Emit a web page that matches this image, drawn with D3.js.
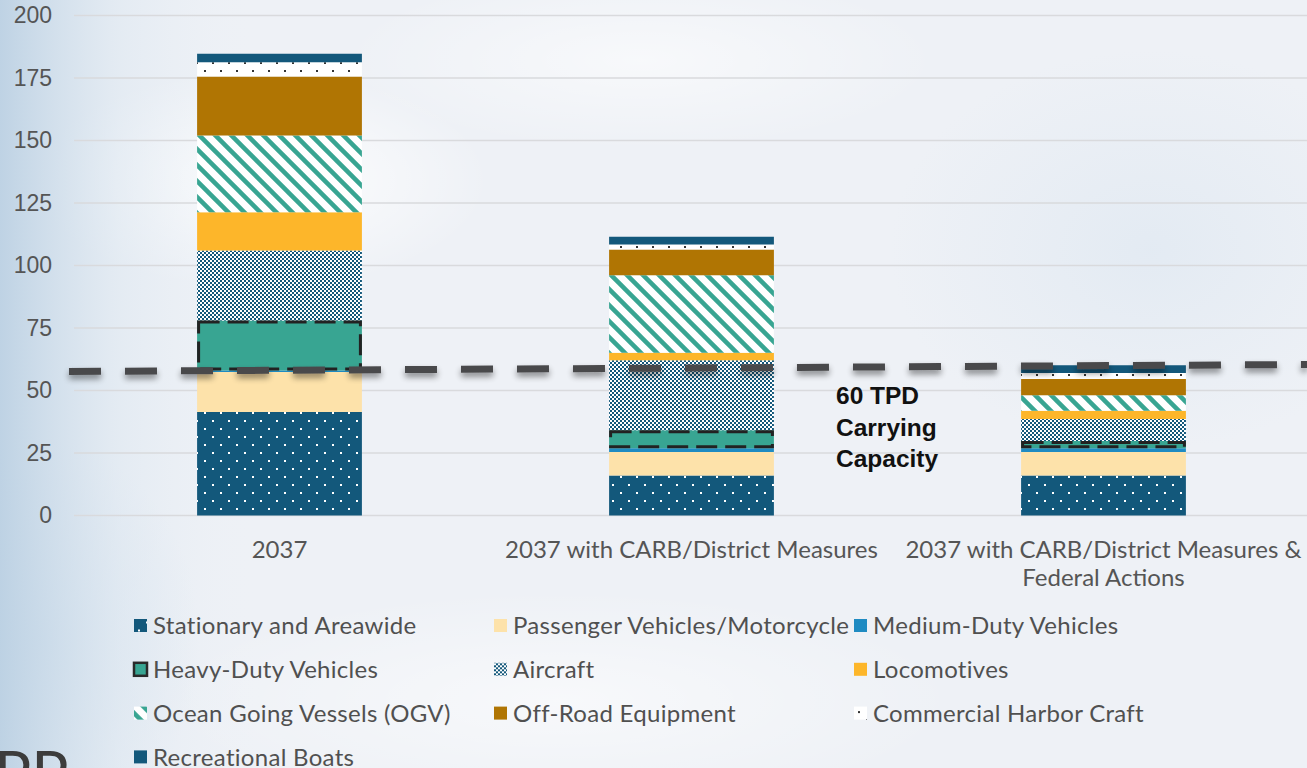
<!DOCTYPE html>
<html>
<head>
<meta charset="utf-8">
<script src="https://cdn.jsdelivr.net/npm/d3@7"></script>
<style>
  body { margin: 0; padding: 0; overflow: hidden; }
  svg { display: block; }
</style>
</head>
<body>
<script>
// emissions inventory, tons per day

var categories = ["2037", "2037 with CARB/District Measures", "2037 with CARB/District Measures & Federal Actions"];

var stationary = [41.4, 16.0, 16.0],
    passenger = [16.0, 9.4, 9.4],
    mediumDuty = [0.6, 1.5, 1.5],
    heavyDuty = [20.0, 7.2, 2.9],
    aircraft = [28.0, 28.0, 8.8],
    locomotives = [15.3, 3.0, 3.3],
    ogv = [30.7, 31.0, 6.2],
    offRoad = [23.6, 10.3, 6.5],
    harborCraft = [5.7, 2.0, 2.4],
    recBoats = [3.4, 3.1, 3.1];

var seriesNames = ["Stationary and Areawide", "Passenger Vehicles/Motorcycle", "Medium-Duty Vehicles",
    "Heavy-Duty Vehicles", "Aircraft", "Locomotives",
    "Ocean Going Vessels (OGV)", "Off-Road Equipment", "Commercial Harbor Craft",
    "Recreational Boats"];
var seriesValues = [stationary, passenger, mediumDuty, heavyDuty, aircraft, locomotives, ogv, offRoad, harborCraft, recBoats];

var yTicks = [0, 25, 50, 75, 100, 125, 150, 175, 200];

// carrying capacity line as drawn (slightly tilted in the original)
var capacityStart = 57.6,
    capacityEnd = 60.4;
var capacityLabel = ["60 TPD", "Carrying", "Capacity"];

function initChart()
{
    var width = 1307,
        height = 768;

    var svg = d3.select("body").append("svg")
        .attr("width", width)
        .attr("height", height);

    var defs = svg.append("defs");

    // background
    var bgGrad = defs.append("linearGradient").attr("id", "bgLeft")
        .attr("x1", 0).attr("x2", 1).attr("y1", 0).attr("y2", 0);
    bgGrad.append("stop").attr("offset", 0).attr("stop-color", "#b9cfe2").attr("stop-opacity", 0.9);
    bgGrad.append("stop").attr("offset", 0.09).attr("stop-color", "#dbe6f0").attr("stop-opacity", 0.55);
    bgGrad.append("stop").attr("offset", 0.2).attr("stop-color", "#eef2f7").attr("stop-opacity", 0);

    var glow = defs.append("radialGradient").attr("id", "glow");
    glow.append("stop").attr("offset", 0).attr("stop-color", "#ffffff").attr("stop-opacity", 0.95);
    glow.append("stop").attr("offset", 1).attr("stop-color", "#ffffff").attr("stop-opacity", 0);

    var blueGlow = defs.append("radialGradient").attr("id", "blueGlow");
    blueGlow.append("stop").attr("offset", 0).attr("stop-color", "#d3e1ee").attr("stop-opacity", 0.8);
    blueGlow.append("stop").attr("offset", 1).attr("stop-color", "#d3e1ee").attr("stop-opacity", 0);

    svg.append("rect").attr("width", width).attr("height", height).attr("fill", "#eef1f6");
    svg.append("ellipse").attr("cx", 260).attr("cy", 180).attr("rx", 230).attr("ry", 110).attr("fill", "url(#glow)");
    svg.append("ellipse").attr("cx", 640).attr("cy", 60).attr("rx", 300).attr("ry", 90).attr("fill", "url(#glow)").attr("opacity", 0.6);
    svg.append("ellipse").attr("cx", 560).attr("cy", 700).attr("rx", 400).attr("ry", 110).attr("fill", "url(#glow)").attr("opacity", 0.6);
    svg.append("ellipse").attr("cx", 1150).attr("cy", 250).attr("rx", 260).attr("ry", 200).attr("fill", "url(#blueGlow)").attr("opacity", 0.5);
    svg.append("ellipse").attr("cx", 40).attr("cy", 640).attr("rx", 160).attr("ry", 200).attr("fill", "url(#blueGlow)");
    svg.append("rect").attr("width", width).attr("height", height).attr("fill", "url(#bgLeft)");

    // patterns
    var dotBlue = defs.append("pattern").attr("id", "patStationary")
        .attr("patternUnits", "userSpaceOnUse").attr("width", 16).attr("height", 16);
    dotBlue.append("rect").attr("width", 16).attr("height", 16).attr("fill", "#13587b");
    dotBlue.append("rect").attr("x", 4).attr("y", 4).attr("width", 2).attr("height", 2).attr("fill", "#fff");
    dotBlue.append("rect").attr("x", 12).attr("y", 12).attr("width", 2).attr("height", 2).attr("fill", "#fff");

    var dotWhite = defs.append("pattern").attr("id", "patHarbor")
        .attr("patternUnits", "userSpaceOnUse").attr("width", 16).attr("height", 16);
    dotWhite.append("rect").attr("width", 16).attr("height", 16).attr("fill", "#fff");
    dotWhite.append("rect").attr("x", 12).attr("y", 6).attr("width", 2).attr("height", 2).attr("fill", "#333");
    dotWhite.append("rect").attr("x", 4).attr("y", 14).attr("width", 2).attr("height", 2).attr("fill", "#333");

    var checker = defs.append("pattern").attr("id", "patAircraft")
        .attr("patternUnits", "userSpaceOnUse").attr("width", 4).attr("height", 4);
    checker.append("rect").attr("width", 4).attr("height", 4).attr("fill", "#fff");
    checker.append("rect").attr("width", 2).attr("height", 2).attr("fill", "#13587b");
    checker.append("rect").attr("x", 2).attr("y", 2).attr("width", 2).attr("height", 2).attr("fill", "#13587b");

    var stripes = defs.append("pattern").attr("id", "patOGV")
        .attr("patternUnits", "userSpaceOnUse").attr("width", 16).attr("height", 16);
    stripes.append("rect").attr("width", 16).attr("height", 16).attr("fill", "#fff");
    stripes.append("path").attr("d", "M-4,-4L20,20M-4,12L4,20M12,-4L20,4")
        .attr("stroke", "#38a592").attr("stroke-width", 4.5);

    var fills = ["url(#patStationary)", "#fde2aa", "#1f8bc2", "#38a592", "url(#patAircraft)",
        "#fdb62a", "url(#patOGV)", "#b07503", "url(#patHarbor)", "#13587b"];

    var shadow = defs.append("filter").attr("id", "shadow")
        .attr("x", "-5%").attr("y", "-300%").attr("width", "110%").attr("height", "700%");
    shadow.append("feGaussianBlur").attr("in", "SourceAlpha").attr("stdDeviation", 3).attr("result", "b");
    shadow.append("feOffset").attr("in", "b").attr("dy", 4).attr("result", "o");
    shadow.append("feComponentTransfer").attr("in", "o").attr("result", "s")
        .append("feFuncA").attr("type", "linear").attr("slope", 0.45);
    var merge = shadow.append("feMerge");
    merge.append("feMergeNode").attr("in", "s");
    merge.append("feMergeNode").attr("in", "SourceGraphic");

    // scales
    var y = d3.scaleLinear().domain([0, 200]).range([515.5, 15.5]);
    var x = d3.scaleBand().domain(categories).range([73.5, 1309.5]).paddingInner(0.6).paddingOuter(0.3);

    // grid
    svg.append("g").selectAll("line").data(yTicks).join("line")
        .attr("x1", 74).attr("x2", width)
        .attr("y1", function(d) { return y(d); })
        .attr("y2", function(d) { return y(d); })
        .attr("stroke", "#d9dadd").attr("stroke-width", 1.5);

    var yAxis = svg.append("g").attr("transform", "translate(52,0)")
        .call(d3.axisLeft(y).tickValues(yTicks).tickSize(0).tickPadding(0));
    yAxis.select(".domain").remove();
    yAxis.selectAll("text")
        .attr("font-family", "'Liberation Sans', Arial, sans-serif")
        .attr("font-size", 23).attr("fill", "#555");

    // stacked bars
    var rows = categories.map(function(c, i) {
        var r = { cat: c };
        seriesNames.forEach(function(s, k) { r[s] = seriesValues[k][i]; });
        return r;
    });
    var stacked = d3.stack().keys(seriesNames)(rows);

    var layers = svg.append("g").selectAll("g").data(stacked).join("g")
        .attr("fill", function(d, k) { return fills[k]; });
    layers.selectAll("rect").data(function(d) { return d; }).join("rect")
        .attr("x", function(d) { return x(d.data.cat); })
        .attr("width", x.bandwidth())
        .attr("y", function(d) { return y(d[1]); })
        .attr("height", function(d) { return y(d[0]) - y(d[1]); });

    // heavy-duty dashed outline
    var heavy = stacked[3];
    svg.append("g").selectAll("rect").data(heavy).join("rect")
        .attr("x", function(d) { return x(d.data.cat) + 1.5; })
        .attr("width", x.bandwidth() - 3)
        .attr("y", function(d) { return y(d[1]) + 1.5; })
        .attr("height", function(d) { return Math.max(0, y(d[0]) - y(d[1]) - 3); })
        .attr("fill", "none").attr("stroke", "#222").attr("stroke-width", 3)
        .attr("stroke-dasharray", "21,8");

    // category labels
    var catLines = [["2037"], ["2037 with CARB/District Measures"], ["2037 with CARB/District Measures &", "Federal Actions"]];
    var catG = svg.append("g").selectAll("text").data(categories).join("text")
        .attr("text-anchor", "middle")
        .attr("font-family", "Lato, 'Open Sans', sans-serif")
        .attr("font-size", 24).attr("fill", "#555");
    catG.selectAll("tspan").data(function(d, i) { return catLines[i]; }).join("tspan")
        .attr("x", function() { var c = d3.select(this.parentNode).datum(); return x(c) + x.bandwidth() / 2; })
        .attr("y", function(d, j) { return 558 + j * 28; })
        .text(function(d) { return d; });

    // carrying capacity line
    svg.append("line")
        .attr("x1", 69).attr("x2", width)
        .attr("y1", y(capacityStart)).attr("y2", y(capacityEnd))
        .attr("stroke", "#4a4a4c").attr("stroke-width", 7)
        .attr("stroke-dasharray", "32,24")
        .attr("filter", "url(#shadow)");

    svg.append("g").selectAll("text").data(capacityLabel).join("text")
        .attr("x", 836)
        .attr("y", function(d, i) { return 404 + i * 31.7; })
        .attr("font-family", "'Liberation Sans', Arial, sans-serif")
        .attr("font-weight", "bold").attr("font-size", 24.5).attr("fill", "#111")
        .text(function(d) { return d; });

    // legend
    var legend = svg.append("g").selectAll("g").data(seriesNames).join("g")
        .attr("transform", function(d, i) {
            return "translate(" + (134 + (i % 3) * 360) + "," + (625.5 + Math.floor(i / 3) * 43.8) + ")";
        });
    legend.append("rect")
        .attr("x", 0).attr("y", -6.5).attr("width", 13).attr("height", 13)
        .attr("fill", function(d, i) { return fills[i]; })
        .attr("stroke", function(d, i) { return i == 3 ? "#2a2a2a" : "none"; })
        .attr("stroke-width", 2.5);
    legend.append("text")
        .attr("x", 19).attr("y", 0).attr("dy", "0.36em")
        .attr("font-family", "Lato, 'Open Sans', sans-serif")
        .attr("font-size", 24).attr("letter-spacing", 0.3).attr("fill", "#505050")
        .text(function(d) { return d; });

    // cut-off logo text in the corner
    svg.append("text").attr("x", -6).attr("y", 796)
        .attr("font-family", "Lato, sans-serif").attr("font-size", 62)
        .attr("fill", "#3c3c3c").text("PP");
}

initChart();
</script>
</body>
</html>
